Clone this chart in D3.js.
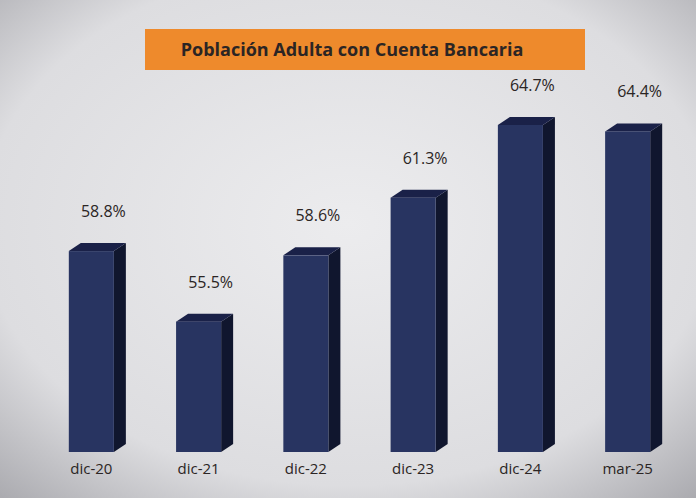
<!DOCTYPE html>
<html><head><meta charset="utf-8">
<script src="https://cdn.jsdelivr.net/npm/d3@7"></script>
<style>body{margin:0;}svg{display:block;}</style>
</head><body>
<svg id="chart" width="696" height="498"></svg>
<script>
const categories = ['dic-20', 'dic-21', 'dic-22', 'dic-23', 'dic-24', 'mar-25']
const values = [58.8, 55.5, 58.6, 61.3, 64.7, 64.4]
const labels = ['58.8%', '55.5%', '58.6%', '61.3%', '64.7%', '64.4%']

const svg = d3.select('#chart')
const defs = svg.append('defs')
const bg = defs.append('radialGradient').attr('id', 'bg').attr('cx', '50%').attr('cy', '45%').attr('r', '75%')
bg.append('stop').attr('offset', '0%').attr('stop-color', '#ececee')
bg.append('stop').attr('offset', '70%').attr('stop-color', '#dddde0')
bg.append('stop').attr('offset', '100%').attr('stop-color', '#a9a9ae')
svg.append('rect').attr('width', 696).attr('height', 498).attr('fill', 'url(#bg)')

// title bar
svg.append('rect').attr('x', 145).attr('y', 29).attr('width', 440).attr('height', 41).attr('fill', '#ee8a2c')
svg.append('text').attr('x', 352).attr('y', 56).attr('text-anchor', 'middle')
  .attr('font-family', 'Open Sans, sans-serif').attr('font-weight', 'bold').attr('font-size', 18)
  .attr('fill', '#2b2524').text('Población Adulta con Cuenta Bancaria')

const x = d3.scaleBand().domain(categories).range([42, 677]).paddingInner(0.58).paddingOuter(0.25)
const y = d3.scaleLinear().domain([49.4, 64.7]).range([452, 125])
const dx = 12, dy = 8

const g = svg.append('g').selectAll('g').data(categories).join('g')
g.append('polygon').attr('fill', '#10162e').attr('points', (d, i) => {
  const x1 = x(d) + x.bandwidth(), t = y(values[i])
  return [[x1, t], [x1 + dx, t - dy], [x1 + dx, 452 - dy], [x1, 452]].join(' ')
})
g.append('polygon').attr('fill', '#1a2148').attr('points', (d, i) => {
  const x0 = x(d), x1 = x0 + x.bandwidth(), t = y(values[i])
  return [[x0, t], [x0 + dx, t - dy], [x1 + dx, t - dy], [x1, t]].join(' ')
})
g.append('rect').attr('x', d => x(d)).attr('y', (d, i) => y(values[i]))
  .attr('width', x.bandwidth()).attr('height', (d, i) => 452 - y(values[i])).attr('fill', '#283461')
g.append('text').attr('x', d => x(d) + x.bandwidth() / 2 + 12).attr('y', (d, i) => y(values[i]) - 34)
  .attr('text-anchor', 'middle').attr('font-family', 'Open Sans, sans-serif').attr('font-size', 16)
  .attr('fill', '#2b2524').text((d, i) => labels[i])
g.append('text').attr('x', d => x(d) + x.bandwidth() / 2).attr('y', 474)
  .attr('text-anchor', 'middle').attr('font-family', 'Open Sans, sans-serif').attr('font-size', 15)
  .attr('fill', '#2b2524').text(d => d)
</script>
</body></html>
